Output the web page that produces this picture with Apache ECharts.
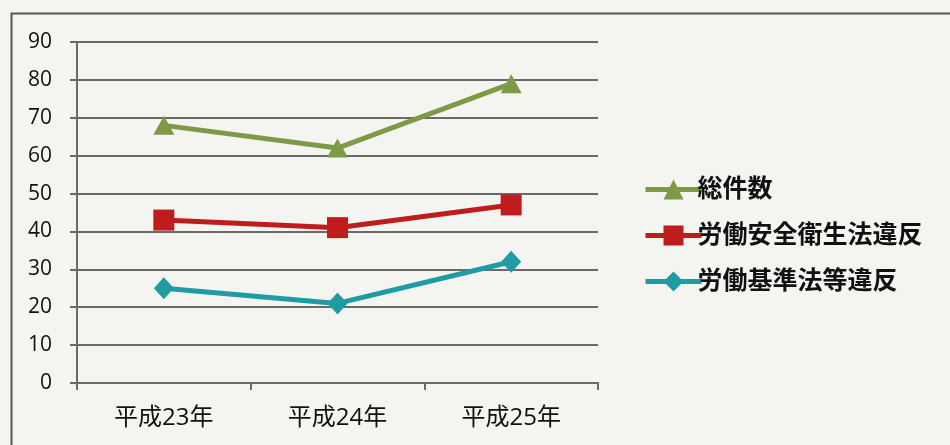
<!DOCTYPE html>
<html><head><meta charset="utf-8">
<script src="https://cdn.jsdelivr.net/npm/echarts@6/dist/echarts.min.js"></script>
<style>html,body{margin:0;padding:0;background:#f4f4f1;}#c{width:950px;height:445px;}</style>
</head><body><div id="c"></div>
<script>
const categories = ['平成23年', '平成24年', '平成25年'];
const seriesNames = ['総件数', '労働安全衛生法違反', '労働基準法等違反'];
const totalCases = [68, 62, 79];
const safetyViolations = [43, 41, 47];
const laborStdViolations = [25, 21, 32];
const yTicks = [0, 10, 20, 30, 40, 50, 60, 70, 80, 90];

const colors = ['#7f9a47', '#bf1d1d', '#1f9ba3'];
const symbols = ['triangle', 'rect', 'diamond'];
const sizes = [[21, 19], [21, 21], [20, 22]];
const dataSets = [totalCases, safetyViolations, laborStdViolations];
const font = '"Open Sans","Noto Sans CJK JP",sans-serif';

const chart = echarts.init(document.getElementById('c'));
chart.setOption({
  backgroundColor: '#f4f4f1',
  animation: false,
  textStyle: { fontFamily: font },
  graphic: [{
    type: 'rect', left: 9, top: 11, shape: { width: 960, height: 460 },
    style: { fill: 'none', stroke: '#555', lineWidth: 2 }, silent: true, z: -1
  }],
  grid: { left: 77, right: 352, top: 42, bottom: 62 },
  legend: {
    orient: 'vertical', left: 638, top: 172, itemGap: 21,
    itemWidth: 56, itemHeight: 25,
    lineStyle: { width: 5 },
    textStyle: { fontSize: 25, lineHeight: 25, color: '#111', fontFamily: font, fontWeight: 'bold', padding: [0, 0, 0, -9] },
    data: seriesNames
  },
  xAxis: {
    type: 'category', data: categories, boundaryGap: true,
    axisLine: { lineStyle: { color: '#6a6a6a', width: 2 } },
    axisTick: { show: true, length: 7, lineStyle: { color: '#6a6a6a', width: 2 } },
    axisLabel: { fontSize: 24, color: '#111', margin: 23, fontFamily: font }
  },
  yAxis: {
    type: 'value', min: 0, max: 90, interval: 10,
    axisLine: { show: true, lineStyle: { color: '#6a6a6a', width: 2 } },
    axisTick: { show: true, length: 7, lineStyle: { color: '#6a6a6a', width: 2 } },
    splitLine: { lineStyle: { color: '#6a6a6a', width: 2 } },
    axisLabel: { fontSize: 21, color: '#111', margin: 25, fontFamily: font,
      formatter: v => yTicks.includes(v) ? String(v) : '' }
  },
  series: seriesNames.map((n, i) => ({
    name: n, type: 'line', data: dataSets[i],
    symbol: symbols[i], symbolSize: sizes[i], showAllSymbol: true,
    lineStyle: { color: colors[i], width: 5 },
    itemStyle: { color: colors[i] },
    z: 3 - i
  }))
});
</script></body></html>
